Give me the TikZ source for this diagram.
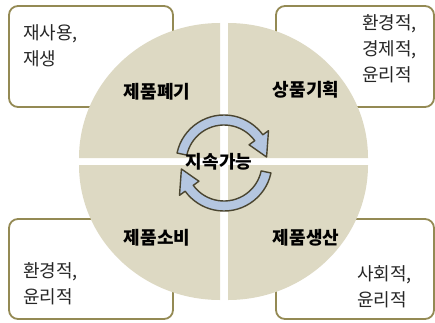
\documentclass[tikz,border=0pt]{standalone}
\usepackage{fontspec}
\setmainfont{Noto Sans CJK KR}
\definecolor{quadfill}{HTML}{DDD9C3}
\definecolor{boxline}{HTML}{948A54}
\definecolor{arrfill}{HTML}{B4C6E0}
\definecolor{arrline}{HTML}{4A4530}
\definecolor{txtgray}{HTML}{262626}
\tikzset{
  notebox/.style={draw=boxline, line width=1.8pt, rounded corners=9pt, fill=white},
  quad/.style={fill=quadfill},
  cyclearrow/.style={fill=arrfill, draw=arrline, line width=1.4pt, line join=round},
  quadlabel/.style={font=\bfseries\fontsize{18}{20}\selectfont, text=black, inner sep=0pt},
  notetext/.style={font=\fontsize{18}{26}\selectfont, text=txtgray, align=left, anchor=north west, inner sep=0pt}
}
\begin{document}
\begin{tikzpicture}[x=1pt,y=1pt]
\useasboundingbox (0,0) rectangle (435,322);
% note boxes
\draw[notebox] (9,215) rectangle (173,316);
\draw[notebox] (276,215) rectangle (434,316);
\draw[notebox] (9,3) rectangle (173,103);
\draw[notebox] (276,3) rectangle (434,103);
% quadrants
\fill[quad] (220,164) -- (79,164) arc[start angle=180,end angle=90,x radius=141pt,y radius=135pt] -- cycle;
\fill[quad] (228,164) -- (228,299) arc[start angle=90,end angle=0,x radius=140pt,y radius=135pt] -- cycle;
\fill[quad] (220,157) -- (79,157) arc[start angle=180,end angle=270,x radius=141pt,y radius=135pt] -- cycle;
\fill[quad] (228,157) -- (368,157) arc[start angle=0,end angle=-90,x radius=140pt,y radius=135pt] -- cycle;
% cycle arrows
\foreach \r in {0,180}{
\begin{scope}[shift={(224,159)}, rotate=\r]
\filldraw[cyclearrow] (168:48pt) arc[start angle=168,end angle=36,radius=48pt]
  -- (36:55pt) -- (8:43pt) -- (36:31pt) -- (36:38pt)
  arc[start angle=36,end angle=168,radius=38pt] -- cycle;
\end{scope}
}
% labels
\node[quadlabel] (dispose) at (157,230) {제품폐기};
\node[quadlabel] (plan) at (306,232) {상품기획};
\node[quadlabel] (consume) at (157,84) {제품소비};
\node[quadlabel] (produce) at (306,84) {제품생산};
\node[quadlabel] (sustain) at (219,160) {지속가능};
% note texts
\node[notetext] (ntl) at (23,298) {재사용,\\재생};
\node[notetext] (ntr) at (362,308) {환경적,\\경제적,\\윤리적};
\node[notetext] (nbl) at (23,60) {환경적,\\윤리적};
\node[notetext] (nbr) at (357,57) {사회적,\\윤리적};
\end{tikzpicture}
\end{document}
